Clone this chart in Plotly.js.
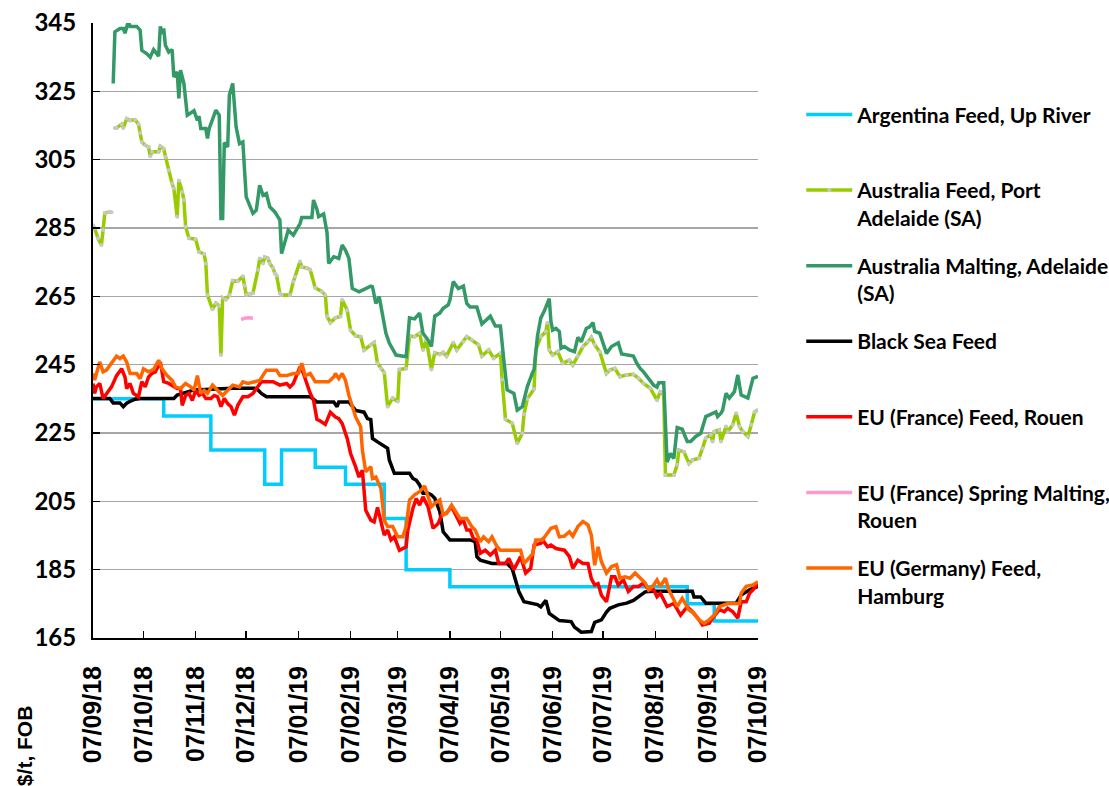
<!DOCTYPE html>
<html>
<head>
<meta charset="utf-8">
<script src="https://cdn.plot.ly/plotly-3.0.1.min.js"></script>
<style>html,body{margin:0;padding:0;background:#fff;}#chart{width:1109px;height:786px;}</style>
</head>
<body>
<div id="chart"></div>
<script>
// Days counted from 7 Sep 2018
const START_DATE = '2018-09-07';
const seriesNames = [
  'Argentina Feed, Up River<br>&nbsp;',
  'Australia Feed, Port<br>Adelaide (SA)',
  'Australia Malting, Adelaide<br>(SA)',
  'Black Sea Feed<br>&nbsp;',
  'EU (France) Feed, Rouen<br>&nbsp;',
  'EU (France) Spring Malting,<br>Rouen',
  'EU (Germany) Feed,<br>Hamburg'
];

const argDays = [0,42,70,102,112,132,150,173,186,212,353,369,395];
const argVals = [235,230,220,210,220,215,210,200,185,180,175,170,170];

const ausFeedDays = [
  0,1,3,5,6,7,9,11,12,13,
  14,17,18,20,22,25,27,28,29,31,
  33,34,35,39,40,42,43,45,47,48,
  50,51,53,54,55,57,61,63,66,67,
  68,71,73,75,76,77,79,81,83,86,
  89,90,91,93,95,98,99,101,102,104,
  105,107,108,109,111,112,117,119,120,123,
  124,127,129,132,136,138,139,141,144,147,
  148,151,153,156,159,161,165,167,169,171,
  173,175,178,181,182,186,188,191,194,196,
  198,201,203,206,208,210,214,216,220,222,
  225,229,231,235,238,242,243,245,249,252,
  255,256,258,262,263,266,269,270,271,273,
  276,279,283,285,288,291,294,296,298,301,
  305,307,310,313,317,321,324,327,331,335,
  337,339,340,345,347,348,351,354,356,360,
  362,364,367,368,369,372,373,376,377,380,
  382,384,386,389,391,393,395];
const ausFeedVals = [
  285.8,284.9,282,280,284.4,289.4,289.6,289.6,null,314.3,
  314.3,315.4,314.3,317,316.5,316.7,315.4,312.8,310.2,309.2,
  308.7,306,307.3,307.3,308.9,308.2,305.8,301.9,298,296.6,
  288.3,298.9,295.6,293.2,285.4,282,281.7,278,277.4,274.6,
  265.4,261.2,263,262.2,247.8,264.6,264.1,265.4,269.6,269.4,
  270.9,268.2,265.4,265.7,265.9,272.8,276.1,274.6,276.5,276.1,
  274.6,273.3,271.7,271.2,265.9,265.4,265.4,269.3,270.7,275.2,
  273.6,273.3,272.8,267.5,266.4,265.4,259.2,257.3,258.7,259.1,
  264,260.9,255.1,253.4,253.2,249.3,250.8,251.5,245.4,243.9,
  242.7,232.7,235.2,234.2,243.6,243.9,253.4,253.2,254.2,249.3,
  252.2,243.6,248.5,248,248.6,247.5,251.4,249.3,251.7,253.2,
  252.2,250.8,247.5,249.3,246.9,248.4,240.6,229,227.9,222,
  224.9,230.5,235,237.9,249.3,253.2,254.7,257.3,249.3,247.8,
  248.8,245.4,246.3,244.9,247.5,250.3,251.7,253,250.8,248.8,
  242.4,243.4,243.9,241.5,242,242.2,241,239.5,238.1,234.6,
  237.1,236.6,212.7,212.7,215.7,220,219.5,216.1,217.1,217.6,
  220.5,223.5,224.5,222.5,225.4,225.9,222.5,226.9,225.4,227.4,
  230.8,226.9,225.4,224,227.4,231.2,231.7];

const ausMaltDays = [
  12,13,16,18,19,21,22,26,28,29,
  32,34,36,38,39,40,41,42,43,45,
  47,48,50,51,52,54,56,60,62,63,
  64,67,68,69,73,75,76,77,78,80,
  81,83,85,87,89,91,93,95,97,99,
  101,103,105,108,111,112,116,119,123,124,
  127,130,131,133,134,137,139,140,143,146,
  148,150,152,154,158,162,165,166,168,170,
  174,176,180,186,188,191,194,196,199,201,
  203,206,208,211,212,214,217,220,222,224,
  228,231,236,239,242,244,246,250,252,255,
  258,261,262,264,266,268,271,272,273,275,
  277,278,280,283,286,288,290,293,295,297,
  298,301,305,308,312,314,321,323,325,327,
  330,333,335,336,339,341,343,345,347,350,
  353,355,358,361,364,368,370,371,373,374,
  376,378,381,383,385,389,392,395];
const ausMaltVals = [
  327.3,342.4,343.4,343.4,342,345.5,344,344,342.9,337,
  336,335,337.2,336,335.3,344,341.9,343.4,338.5,336.5,
  337.2,329.2,330.7,322.9,331.2,327.3,318,319.3,316.5,317.7,
  314.1,314.1,311.2,314.1,319.5,318,287.8,287.8,310,308.7,
  323.9,327.3,314.6,309.7,310.2,294.1,291.7,289.3,290.2,297.5,
  294.6,295.1,291.2,289.7,287.3,277.5,284.4,282.9,286.3,288.1,
  288.1,288.1,293.2,290.5,288.3,289.1,283.7,274.6,276.6,276.1,
  280,278.5,276.1,267.3,266.3,267.3,268,267.8,262.9,264.9,
  254.2,251.3,247.8,247.3,258.7,258.4,260.1,254.2,252.2,250.3,
  259.2,260.1,261.5,262.5,263.9,269.3,267.3,268,262.9,261.9,
  261.9,256.9,259.2,256.3,256.3,246.4,237.6,236.6,231.7,232.7,
  238.6,242.6,243.6,253.4,258.7,260.6,264.3,257.7,255.1,255.6,
  254.7,249.8,250.3,249.3,248.8,253,251.7,255.6,256.1,257.3,
  254.7,254.2,248.3,250.3,251.4,248.1,247.5,245.4,243.9,242.9,
  241,239,238.4,239.7,239.7,216.5,219,217.5,226.6,226.1,
  222.5,222.5,224,224.9,229.8,230.8,231.2,229.8,230.8,231.7,
  236.6,235.2,237.1,242,236.1,235.2,241,241.6];

const blackSeaDays = [
  0,10,12,16,18,20,23,25,28,48,
  50,60,83,96,98,100,103,129,133,143,
  145,146,152,156,161,163,165,166,169,172,
  175,176,179,188,190,192,194,196,199,201,
  203,206,208,212,224,227,228,230,234,237,
  246,249,251,253,256,260,264,266,269,271,
  277,284,286,290,296,298,302,305,307,312,
  317,321,324,328,333,356,357,361,364,382,
  385,390,395];
const blackSeaVals = [
  235.1,235.1,233.8,233.8,232.7,233.7,234.5,234.9,235.1,235.1,
  236.1,237.6,238.1,238.1,237.6,236.6,235.6,235.6,234.1,234.1,
  232.7,234.1,234.1,231.6,231.1,229.2,228.9,223.4,222.4,221.5,
  220.5,217.1,213.2,213.2,211.7,211.2,209.8,207.4,207.4,206.9,
  205.9,202,196.1,193.7,193.7,193.2,188.8,187.8,187.3,186.8,
  186.8,185.3,181.9,178.5,175.6,175.1,174.8,174.1,176,172.2,
  170.1,169.8,168.2,166.7,166.9,169.6,170.3,172.6,173.7,174.7,
  175.2,176,177,178.5,178.7,178.7,177,177,175.2,175.2,
  177.6,179.1,180.1];

const franceFeedDays = [
  0,1,2,4,6,8,11,14,17,19,
  20,22,24,27,29,31,33,35,37,40,
  42,45,48,50,52,53,55,57,59,61,
  63,65,67,70,72,74,76,78,80,82,
  84,86,89,92,95,97,100,107,111,115,
  117,119,123,125,129,131,133,135,138,141,
  144,146,148,151,153,156,158,160,161,162,
  165,167,169,171,173,175,177,179,182,186,
  187,190,192,194,196,199,202,205,207,210,
  213,216,218,220,222,224,226,228,230,233,
  236,239,241,245,247,250,254,257,260,262,
  266,267,270,272,275,280,283,285,288,291,
  294,296,298,300,302,305,308,310,312,315,
  318,321,324,327,330,333,335,337,341,345,
  349,353,356,360,362,366,368,372,375,377,
  380,383,385,388,390,392,395];
const franceFeedVals = [
  239.5,236.6,238.5,239.5,235.1,236.6,238.5,241.8,243.8,241.4,
  238,239.5,236.6,235.6,240,238.5,241.4,242.4,242.9,245.8,
  240,239.5,238.5,238,238,233.1,236,236.6,234.5,237.5,
  236,236.6,235.1,235.1,236,235.6,232.7,235.1,233.6,232.7,
  230.2,233.1,235.6,235.6,236.6,238,240,240,239,239.5,
  238.5,239.5,244.4,242.4,236.6,234.6,229,228.5,227.5,231.1,
  229.7,229.2,227.8,223.4,219,215.1,212.1,214.1,208.3,202.4,
  199.5,199,203.2,199.5,195.1,196.6,193.7,194.6,190.7,191.7,
  196.6,202.9,205.8,203.9,206.3,203.4,197.1,198.5,201,201.6,
  203.4,200.5,198.5,199.5,196.6,196.6,194.1,193.7,189.8,190.7,
  189.3,190.7,186.8,186.8,188.3,185,188.8,184,185.4,192.2,
  192.7,193.7,191.7,192.2,191.2,190.7,188.8,185.4,187.8,186.8,
  186.8,182.4,180.5,180.9,177.5,175.6,182.9,182.9,180.5,182,
  178.6,180.1,180.1,181.1,179.1,179.1,177.1,178.1,174.2,175.1,
  171.7,174.2,172.7,170.3,168.8,169.3,170.8,173.3,172.7,173.7,
  172.7,170.8,175.6,175.6,178.1,179.1,181];

const springMaltDays = [88,90,93,95];
const springMaltVals = [258.2,258.6,258.7,258.6];

const germanyFeedDays = [
  0,1,4,6,8,11,14,16,18,20,
  22,26,28,30,33,36,39,41,44,47,
  49,52,55,58,60,62,64,66,68,71,
  74,77,80,83,87,89,92,96,99,103,
  109,111,115,119,122,124,126,129,132,140,
  143,144,146,148,150,152,153,156,159,160,
  162,165,166,168,171,173,175,178,181,184,
  186,188,191,194,197,199,201,203,206,208,
  210,213,215,218,222,225,227,230,232,235,
  237,240,242,254,256,258,261,263,267,269,
  272,275,277,280,283,285,288,291,294,296,
  298,300,302,305,308,311,313,316,319,322,
  325,328,330,333,335,337,340,342,345,347,
  350,352,354,357,360,363,366,369,372,377,
  384,385,388,392,395];
const germanyFeedVals = [
  242.4,240.5,245.8,242.9,243.4,245.4,247.5,246.8,247.5,245.8,
  242.4,242.4,240.9,243.8,242.9,243.6,246.3,243.8,241.8,240.4,
  238.5,238,239.5,238.5,237.5,241.8,236.6,237.5,236.6,239,
  237.5,236,237.5,239,238.5,240,239.5,240,240.4,243.4,
  243.4,241.8,241.8,242.4,242.4,245.4,241.8,242.4,240,240,
  241.4,242.4,240.9,242.4,240.4,236,234.6,229.7,226.8,220,
  213.7,215.1,211.7,212.1,208.8,199.5,197.6,197.6,194.6,194.6,
  197.6,205.4,206.9,207.8,209.5,206.4,203.4,204.4,205.4,201,
  201.5,203.9,202.5,200,200,197.6,196.6,193.2,194.6,193.2,
  194.6,191.7,190.7,190.7,186.8,187.8,189.5,193.7,193.7,195.1,
  197.1,197.6,194.6,194.8,196.1,194.8,197.6,199.1,198.1,195.1,
  186.3,191.7,187.3,184,185.9,186.4,182.5,182.9,182.5,184,
  182.5,181.1,179.1,180.5,182,180.1,182.5,179.1,176.2,174.2,
  176.6,175.1,173.2,172.2,170.3,169.3,170.3,171.7,174.2,175.1,
  175.1,178.1,180.1,180.5,181.5];

const yTickVals = [165,185,205,225,245,265,285,305,325,345];

function toDates(days) {
  const base = Date.parse(START_DATE + 'T00:00:00Z');
  return days.map(d => new Date(base + d * 86400000).toISOString().slice(0, 10));
}

const LW = 3.5;
function tr(i, days, vals, color, extra) {
  return Object.assign({
    type: 'scatter', mode: 'lines', name: seriesNames[i], legendgroup: 'g' + i,
    x: toDates(days), y: vals,
    line: {color: color, width: LW}, hoverinfo: 'skip'
  }, extra || {});
}

const traces = [
  tr(0, argDays, argVals, '#00CCFF', {line: {color: '#00CCFF', width: LW, shape: 'hv'}}),
  tr(1, ausFeedDays, ausFeedVals, '#99CC00', {mode: 'lines+markers', marker: {color: '#C8C8C8', size: 4}}),
  tr(2, ausMaltDays, ausMaltVals, '#339966'),
  tr(3, blackSeaDays, blackSeaVals, '#000000'),
  tr(4, franceFeedDays, franceFeedVals, '#FF0000'),
  tr(5, springMaltDays, springMaltVals, '#FF99CC'),
  tr(6, germanyFeedDays, germanyFeedVals, '#FF6600')
];

const labelFont = 'Lato, "Open Sans", sans-serif';
const layout = {
  width: 1109, height: 786,
  margin: {l: 93, r: 351, t: 23, b: 148},
  paper_bgcolor: '#ffffff', plot_bgcolor: '#ffffff',
  showlegend: true,
  legend: {
    xref: 'container', yref: 'container',
    x: 0.7225, y: 0.880, xanchor: 'left', yanchor: 'top',
    font: {family: labelFont, size: 21, color: '#000', weight: 'bold'},
    valign: 'top', tracegroupgap: 18, itemwidth: 46,
    maxheight: 720,
    bgcolor: 'rgba(0,0,0,0)', borderwidth: 0
  },
  xaxis: {
    type: 'date',
    range: ['2018-09-07', '2019-10-07'],
    tick0: '2018-09-07', dtick: 'M1', tickformat: '%d/%m/%y',
    tickangle: -90,
    ticks: 'inside', ticklen: 7, tickwidth: 1.5, tickcolor: '#000',
    showline: true, linecolor: '#000', linewidth: 2,
    showgrid: false, zeroline: false,
    tickfont: {family: '"Liberation Sans", Arial, sans-serif', size: 25, color: '#000', weight: 'bold'},
    ticklabelstandoff: 16
  },
  yaxis: {
    range: [165, 345],
    tickvals: yTickVals,
    ticks: 'inside', ticklen: 7, tickwidth: 1.5, tickcolor: '#000',
    showline: true, linecolor: '#000', linewidth: 2,
    showgrid: true, gridcolor: '#A6A6A6', gridwidth: 1.5,
    zeroline: false,
    tickfont: {family: labelFont, size: 24, color: '#000', weight: 'bold'},
    ticklabelstandoff: 10
  },
  annotations: [{
    text: '$/t, FOB', textangle: -90,
    xref: 'paper', yref: 'paper',
    x: -0.103, y: -0.175, xanchor: 'center', yanchor: 'middle',
    showarrow: false,
    font: {family: '"Liberation Sans", Arial, sans-serif', size: 21, color: '#000', weight: 'bold'}
  }]
};

Plotly.newPlot('chart', traces, layout, {displayModeBar: false, staticPlot: true});
</script>
</body>
</html>
